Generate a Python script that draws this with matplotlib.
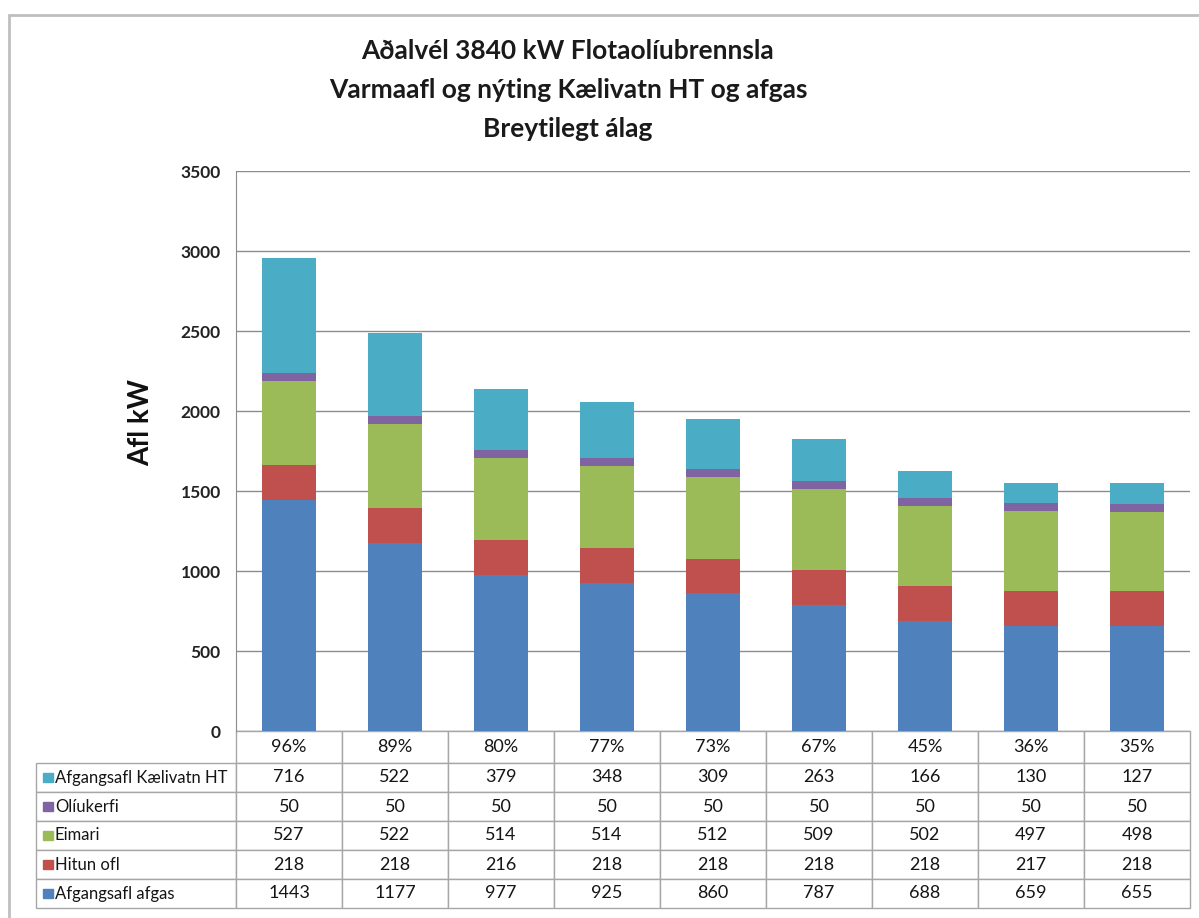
import matplotlib.pyplot as plt
from matplotlib.table import Table
from matplotlib.patches import Rectangle

plt.rcParams['font.family'] = ['Lato', 'DejaVu Sans']

# load levels (table header row)
loads = ['96%', '89%', '80%', '77%', '73%', '67%', '45%', '36%', '35%']

# series, bottom to top
afgangsafl_afgas = [1443, 1177, 977, 925, 860, 787, 688, 659, 655]
hitun_ofl = [218, 218, 216, 218, 218, 218, 218, 217, 218]
eimari = [527, 522, 514, 514, 512, 509, 502, 497, 498]
oliukerfi = [50, 50, 50, 50, 50, 50, 50, 50, 50]
kaelivatn_ht = [716, 522, 379, 348, 309, 263, 166, 130, 127]

names = ['Afgangsafl afgas', 'Hitun ofl', 'Eimari', 'Olíukerfi', 'Afgangsafl Kælivatn HT']
values = [afgangsafl_afgas, hitun_ofl, eimari, oliukerfi, kaelivatn_ht]
colors = ['#4F81BD', '#C0504D', '#9BBB59', '#8064A2', '#4BACC6']

W, H = 1199, 918
fig = plt.figure(figsize=(W / 100, H / 100), dpi=100)

# plot area in pixels
left, right, top, bottom = 236, 1190, 171, 731
pw, ph = right - left, bottom - top
ax = fig.add_axes([left / W, 1 - bottom / H, pw / W, ph / H])

x = range(len(loads))
base = [0] * len(loads)
for name, vals, c in zip(names, values, colors):
    ax.bar(x, vals, width=0.51, bottom=base, color=c, zorder=3)
    base = [b + v for b, v in zip(base, vals)]

ax.set_xlim(-0.5, len(loads) - 0.5)
ax.set_ylim(0, 3500)
ax.set_yticks(range(0, 3501, 500))
ax.set_xticks([])
ax.tick_params(axis='y', length=0, pad=11, labelsize=12.5)
for lbl in ax.get_yticklabels():
    lbl.set_fontweight('bold')
    lbl.set_color('#222222')
ax.grid(axis='y', color='#8C8C8C', linewidth=1, zorder=0)
for s in ['top', 'right', 'bottom']:
    ax.spines[s].set_visible(False)
ax.spines['left'].set_color('#8C8C8C')
ax.set_ylabel('Afl kW', fontsize=20, fontweight='bold', color='#111111')
ax.yaxis.set_label_coords((154 - left) / pw, (bottom - 423) / ph)

# data table under the plot (sizes in axes fractions)
tab_left = 36
head_h, row_h = 32 / ph, 29 / ph
label_w = (left - tab_left) / pw
col_w = 1 / len(loads)
tab_h = head_h + row_h * len(names)
tbl = Table(ax, bbox=[0, -tab_h, 1, tab_h])
edge = '#A6A6A6'
for j, lab in enumerate(loads):
    tbl.add_cell(0, j, col_w, head_h, text=lab, loc='center', edgecolor=edge)
table_rows = list(zip(names, values, colors))[::-1]
for i, (name, vals, c) in enumerate(table_rows, start=1):
    cell = tbl.add_cell(i, -1, label_w, row_h, text=name, loc='left', edgecolor=edge)
    cell.PAD = 0.095
    for j, v in enumerate(vals):
        tbl.add_cell(i, j, col_w, row_h, text=str(v), loc='center', edgecolor=edge)
tbl.auto_set_font_size(False)
tbl.set_fontsize(13)
for (r, cidx), cell in tbl.get_celld().items():
    cell.get_text().set_color('#151515')
    if cidx == -1:
        cell.get_text().set_fontsize(12)
    cell.set_linewidth(1)
ax.add_table(tbl)

# colour keys in the row label cells
sq = 9.5
for i, (name, vals, c) in enumerate(table_rows):
    yc = head_h + row_h * i + row_h / 2
    ax.add_patch(Rectangle((-label_w + 7 / pw, -yc - sq / 2 / ph), sq / pw, sq / ph,
                           transform=ax.transAxes, color=c, clip_on=False, zorder=5))

fig.text(568 / W, 1 - 90 / H,
         'Aðalvél 3840 kW Flotaolíubrennsla\nVarmaafl og nýting Kælivatn HT og afgas\nBreytilegt álag',
         ha='center', va='center', fontsize=19, fontweight='bold', linespacing=1.75, color='#1a1a1a')

# outer chart border (cut off at right and bottom)
fig.patches.append(Rectangle((9 / W, -0.1), 1.2, 1.1 - 15 / H, transform=fig.transFigure,
                             fill=False, edgecolor='#BFBFBF', linewidth=2))

fig.savefig('out.png', dpi=100)
